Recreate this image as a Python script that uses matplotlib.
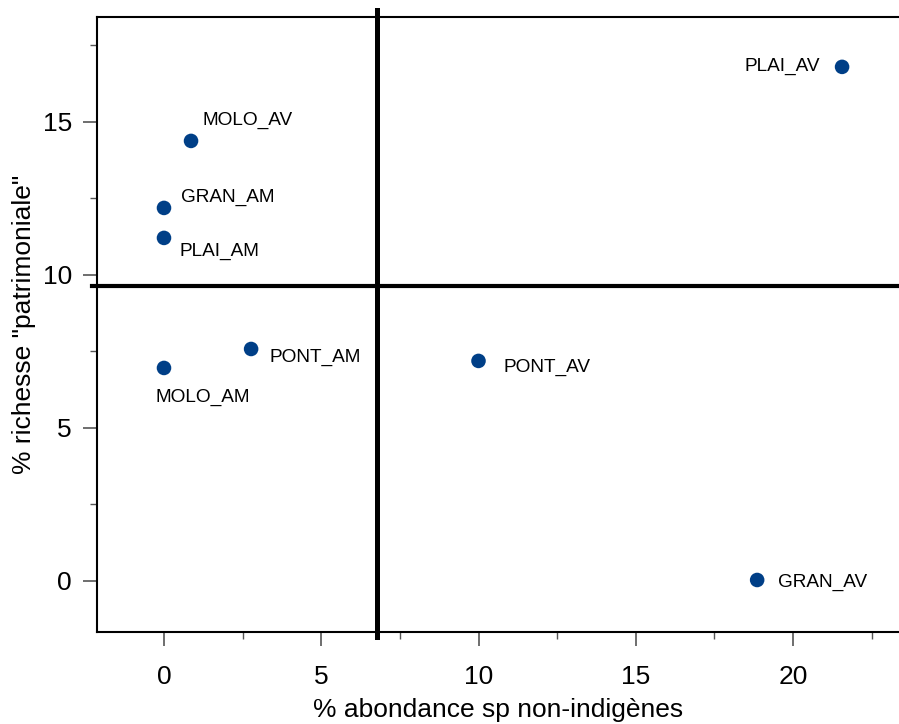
import matplotlib
matplotlib.use("Agg")
import matplotlib.pyplot as plt
from matplotlib.ticker import MultipleLocator

plt.rcParams['font.family'] = ['Liberation Sans', 'DejaVu Sans']

sites = ["MOLO_AV", "GRAN_AM", "PLAI_AM", "MOLO_AM", "PONT_AM", "PONT_AV", "PLAI_AV", "GRAN_AV"]
abondance = [0.86, 0.0, 0.0, 0.0, 2.77, 10.0, 21.56, 18.86]
richesse = [14.38, 12.19, 11.21, 6.96, 7.58, 7.19, 16.80, 0.03]
# label offsets in points (dx, dy) and horizontal alignment
label_offsets = [(8, 14.5), (12, 7.5), (11, -9.5), (-6, -21.5), (13, -6), (18, -5), (-16, 0), (15, -1.5)]
label_ha = ["left", "left", "left", "left", "left", "left", "right", "left"]

x_mean = 6.77
y_mean = 9.64

fig = plt.figure(figsize=(8.99, 7.24), dpi=100)
ax = fig.add_axes([97/899, 1-632/724, (899-97)/899, (632-17)/724])

ax.scatter(abondance, richesse, s=110, color="#003F87", zorder=3, edgecolors="none")
for name, x, y, (dx, dy), ha in zip(sites, abondance, richesse, label_offsets, label_ha):
    ax.annotate(name, (x, y), xytext=(dx, dy), textcoords="offset points",
                ha=ha, va="center", fontsize=13.7, color="#000000")

ax.set_xlim(-2.13, 23.37)
ax.set_ylim(-1.67, 18.43)

# quadrant lines
ax.plot([x_mean, x_mean], [-0.008, 1.012], transform=ax.get_xaxis_transform(),
        color="black", lw=3.6, clip_on=False, zorder=2)
ax.plot([-0.006, 1.0], [y_mean, y_mean], transform=ax.get_yaxis_transform(),
        color="black", lw=3.0, clip_on=False, zorder=2)

ax.xaxis.set_major_locator(MultipleLocator(5))
ax.xaxis.set_minor_locator(MultipleLocator(2.5))
ax.yaxis.set_major_locator(MultipleLocator(5))
ax.yaxis.set_minor_locator(MultipleLocator(2.5))
ax.tick_params(which="major", direction="out", length=10, width=1.2, color="#555555",
               labelsize=19)
ax.tick_params(which="minor", direction="out", length=5, width=1.0, color="#555555")
ax.tick_params(axis="x", which="major", pad=14)
ax.tick_params(axis="y", which="major", pad=8)

for side in ["right"]:
    ax.spines[side].set_visible(False)
for side in ["left", "top", "bottom"]:
    ax.spines[side].set_linewidth(1.5)

ax.set_xlabel("% abondance sp non-indigènes", fontsize=19, labelpad=6)
ax.set_ylabel('% richesse "patrimoniale"', fontsize=19, labelpad=5)

fig.savefig("out.png", dpi=100)
